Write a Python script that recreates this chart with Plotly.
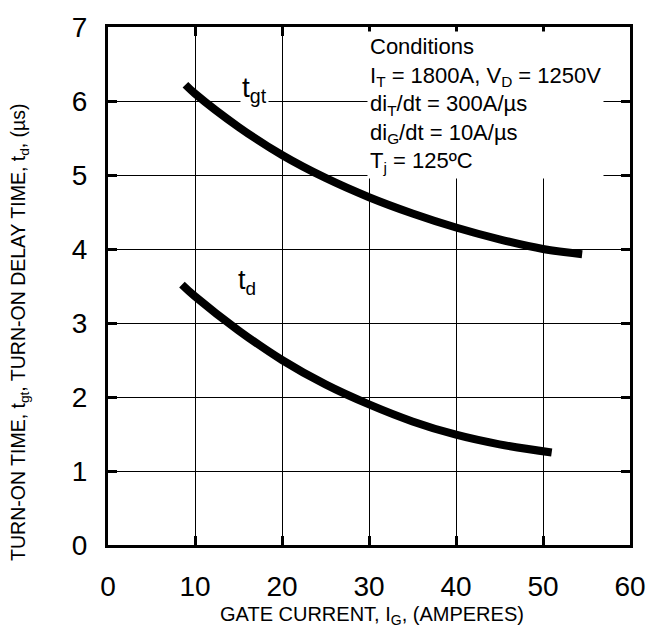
import plotly.graph_objects as go

# Gate current (A) and switching times (µs)
tgt_current = [8.9, 10, 15, 20, 25, 30, 35, 40, 45, 50, 54.5]
tgt_time = [6.22, 6.1, 5.65, 5.27, 4.96, 4.70, 4.48, 4.29, 4.13, 4.0, 3.93]

td_current = [8.5, 10, 15, 20, 25, 30, 35, 40, 45, 51]
td_time = [3.52, 3.36, 2.9, 2.5, 2.17, 1.9, 1.67, 1.49, 1.36, 1.25]

x_ticks = [0, 10, 20, 30, 40, 50, 60]
y_ticks = [0, 1, 2, 3, 4, 5, 6, 7]

conditions = [
    "Conditions",
    "I<sub>T</sub> = 1800A, V<sub>D</sub> = 1250V",
    "di<sub>T</sub>/dt = 300A/µs",
    "di<sub>G</sub>/dt = 10A/µs",
    "T<sub>j</sub> = 125ºC",
]

FONT = "Liberation Sans, Arial, Helvetica, sans-serif"

fig = go.Figure()
for xs, ys in [(tgt_current, tgt_time), (td_current, td_time)]:
    fig.add_trace(go.Scatter(
        x=xs, y=ys, mode="lines",
        line=dict(color="black", width=8, shape="spline", smoothing=1.0),
        showlegend=False, hoverinfo="skip",
    ))

axis_common = dict(
    showline=True, linecolor="black", linewidth=3, mirror="allticks",
    ticks="inside", ticklen=9, tickwidth=3, tickcolor="black",
    showgrid=True, gridcolor="black", gridwidth=1.3,
    zeroline=False,
    tickfont=dict(family=FONT, size=28, color="black"),
)

fig.update_xaxes(range=[0, 60], tickvals=x_ticks, ticklabelstandoff=14, **axis_common)
fig.update_yaxes(range=[0, 7], tickvals=y_ticks, ticklabelstandoff=12, **axis_common)

# Axis titles
fig.add_annotation(
    x=0.505, y=-0.136, xref="paper", yref="paper", xanchor="center", yanchor="middle",
    text="GATE CURRENT, I<sub>G</sub>, (AMPERES)", showarrow=False,
    font=dict(family=FONT, size=20, color="black"),
)
fig.add_annotation(
    x=-0.17, y=0.41, xref="paper", yref="paper", xanchor="center", yanchor="middle",
    textangle=-90,
    text="TURN-ON TIME, t<sub>gt</sub>, TURN-ON DELAY TIME, t<sub>d</sub>, (µs)",
    showarrow=False, font=dict(family=FONT, size=19.5, color="black"),
)

# Test conditions block
fig.add_annotation(
    x=29.8, y=6.94, xref="x", yref="y", xanchor="left", yanchor="top",
    text="<br>".join(conditions), align="left", showarrow=False,
    font=dict(family=FONT, size=22, color="black"),
    bgcolor="white", borderpad=2,
)

# Curve labels
fig.add_annotation(
    x=16.8, y=6.15, text="t<sub>gt</sub>", showarrow=False,
    font=dict(family=FONT, size=28, color="black"), bgcolor="white", borderpad=1,
)
fig.add_annotation(
    x=16.0, y=3.56, text="t<sub>d</sub>", showarrow=False,
    font=dict(family=FONT, size=27, color="black"), bgcolor="white", borderpad=1,
)

fig.update_layout(
    width=658, height=630,
    margin=dict(l=108, r=24, t=18, b=85),
    plot_bgcolor="white", paper_bgcolor="white",
)

fig.write_html("out.html")
